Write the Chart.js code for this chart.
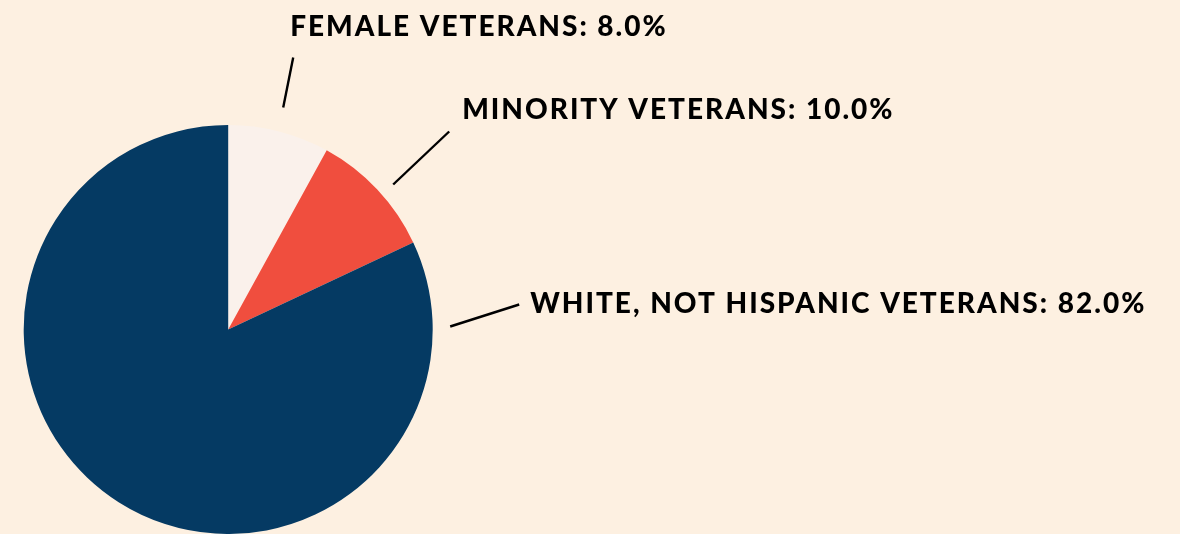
<!DOCTYPE html>
<html>
<head>
<meta charset="utf-8">
<script src="https://cdn.jsdelivr.net/npm/chart.js@4/dist/chart.umd.min.js"></script>
<style>
  html, body { margin: 0; padding: 0; background: #fdf0e1; }
  #wrap { width: 1180px; height: 534px; position: relative; }
</style>
</head>
<body>
<div id="wrap"><canvas id="pie"></canvas></div>
<script>
// data
var groups = ["FEMALE VETERANS", "MINORITY VETERANS", "WHITE, NOT HISPANIC VETERANS"];
var shares = [8.0, 10.0, 82.0];
var sliceColors = ["#faf1eb", "#f04e3e", "#053a63"];

// label placement, relative to pie centre (leader line from -> to, text left/baseline)
var labelLayout = [
  { from: [55, -222], to: [65, -272], text: [62, -294] },
  { from: [165, -145], to: [221, -198], text: [234, -211] },
  { from: [222, -3], to: [291, -25], text: [302, -17] }
];

var labelPlugin = {
  id: "veteranLabels",
  afterDatasetsDraw: function(chart) {
    var ctx = chart.ctx;
    var arcs = chart.getDatasetMeta(0).data;
    var cx = arcs[0].x, cy = arcs[0].y;
    ctx.save();
    ctx.strokeStyle = "#000";
    ctx.lineWidth = 2.4;
    ctx.fillStyle = "#000";
    ctx.font = "900 28px Lato";
    ctx.letterSpacing = "2px";
    ctx.textBaseline = "alphabetic";
    for (var i = 0; i < groups.length; i++) {
      var l = labelLayout[i];
      ctx.beginPath();
      ctx.moveTo(cx + l.from[0], cy + l.from[1]);
      ctx.lineTo(cx + l.to[0], cy + l.to[1]);
      ctx.stroke();
      ctx.fillText(groups[i] + ": " + shares[i].toFixed(1) + "%", cx + l.text[0], cy + l.text[1]);
    }
    ctx.restore();
  }
};

var ctx = document.getElementById("pie");
var myChart = new Chart(ctx, {
  type: "pie",
  data: {
    labels: groups,
    datasets: [{
      data: shares,
      backgroundColor: sliceColors,
      borderWidth: 0,
      hoverOffset: 0
    }]
  },
  options: {
    responsive: true,
    maintainAspectRatio: false,
    animation: false,
    layout: { padding: { left: 23.7, right: 747.3, top: 125, bottom: 0 } },
    plugins: {
      legend: { display: false },
      tooltip: { enabled: false }
    }
  },
  plugins: [labelPlugin]
});
</script>
</body>
</html>
